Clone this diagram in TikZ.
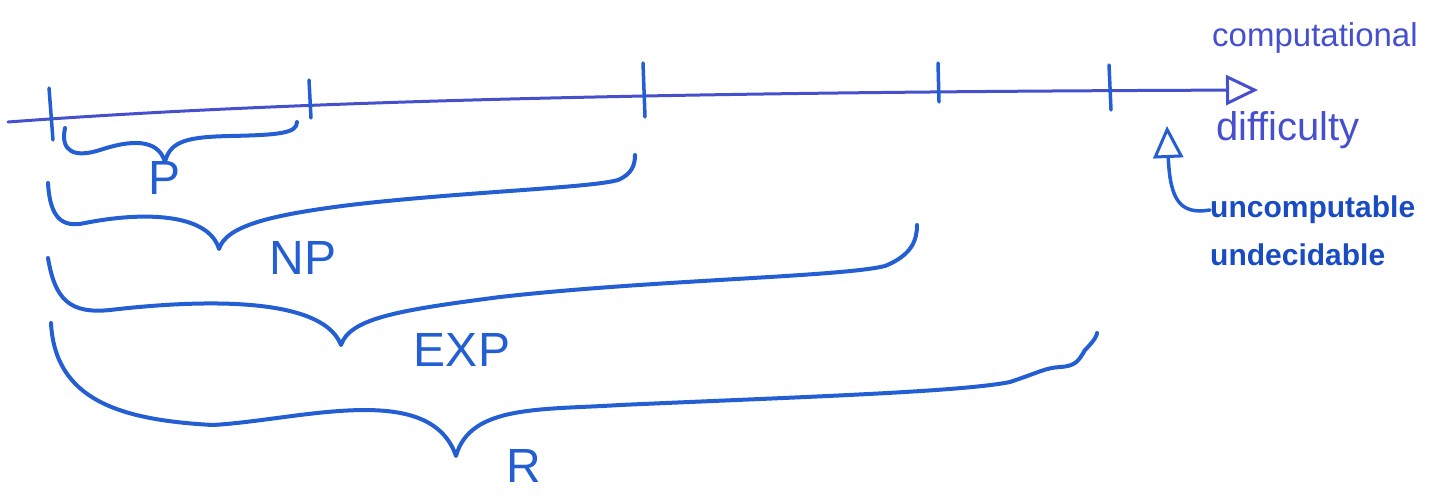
\documentclass[tikz,border=0pt]{standalone}
\usepackage{fontspec}
\setmainfont{Liberation Sans}
\usetikzlibrary{arrows.meta}
\definecolor{pen}{RGB}{35,95,210}
\definecolor{axispen}{RGB}{70,80,205}
\definecolor{darkpen}{RGB}{25,75,195}
\begin{document}
\begin{tikzpicture}[x=1pt,y=-1pt,
  brace/.style={pen,line width=4pt,line cap=round,line join=round},
  axisline/.style={axispen,line width=3pt,line cap=round},
  tickmark/.style={pen,line width=3.5pt,line cap=round},
  classlabel/.style={pen,inner sep=0pt,font=\fontsize{48}{48}\selectfont},
  axislabel/.style={axispen,inner sep=0pt,anchor=west,font=\fontsize{33}{33}\selectfont},
  notelabel/.style={darkpen,inner sep=0pt,anchor=west,font=\bfseries\fontsize{30}{30}\selectfont},
  opentip/.style={-{Triangle[open,length=32pt,width=30pt,line width=3pt]}}]
\useasboundingbox (0,0) rectangle (1431,495);
% axis
\coordinate (axstart) at (8,122);
\coordinate (axend) at (1258,90);
\draw[axisline,opentip] (axstart) .. controls (300,100) and (700,92) .. (axend);
% ticks
\draw[tickmark] (49,88) -- (53,140);
\draw[tickmark] (309,80) -- (311,118);
\draw[tickmark] (643,63) -- (645,117);
\draw[tickmark] (938,63) -- (939,102);
\draw[tickmark] (1109,65) -- (1111,110);
% braces
\draw[brace] (65,128) .. controls (60,152) and (75,158) .. (100,150)
  .. controls (130,140) and (158,138) .. (165,162)
  .. controls (170,140) and (190,137) .. (230,136)
  .. controls (280,135) and (297,133) .. (297,122);
\draw[brace] (48,183) .. controls (50,218) and (62,228) .. (85,223)
  .. controls (140,212) and (208,212) .. (219,249)
  .. controls (226,226) and (270,215) .. (350,205)
  .. controls (460,192) and (590,188) .. (618,180)
  .. controls (632,174) and (635,165) .. (635,155);
\draw[brace] (48,258) .. controls (55,300) and (70,314) .. (110,310)
  .. controls (170,303) and (320,290) .. (341,345)
  .. controls (350,318) and (400,310) .. (500,297)
  .. controls (650,280) and (840,277) .. (885,266)
  .. controls (912,255) and (917,240) .. (917,225);
\draw[brace] (51,323) .. controls (55,400) and (120,420) .. (213,425)
  .. controls (300,420) and (430,380) .. (456,456)
  .. controls (470,405) and (540,410) .. (620,405)
  .. controls (800,397) and (960,392) .. (1010,382)
  .. controls (1040,372) and (1045,368) .. (1060,367)
  .. controls (1075,366) and (1078,362) .. (1085,350)
  .. controls (1095,340) and (1097,335) .. (1097,333);
% class labels
\node[classlabel] (P) at (165,178) {P};
\node[classlabel] (NP) at (303,258) {NP};
\node[classlabel] (EXP) at (462,350) {EXP};
\node[classlabel] (R) at (524,466) {R};
% axis label
\node[axislabel] (comp) at (1212,38) {computational};
\node[axislabel,font=\fontsize{40}{40}\selectfont] (diff) at (1216,130) {difficulty};
% note
\node[notelabel] (unc) at (1210,210) {uncomputable};
\node[notelabel] (und) at (1210,255) {undecidable};
\coordinate (upend) at (1167,126);
\draw[tickmark,opentip] (unc.west) .. controls (1180,215) and (1170,200) .. (upend);
\end{tikzpicture}
\end{document}
